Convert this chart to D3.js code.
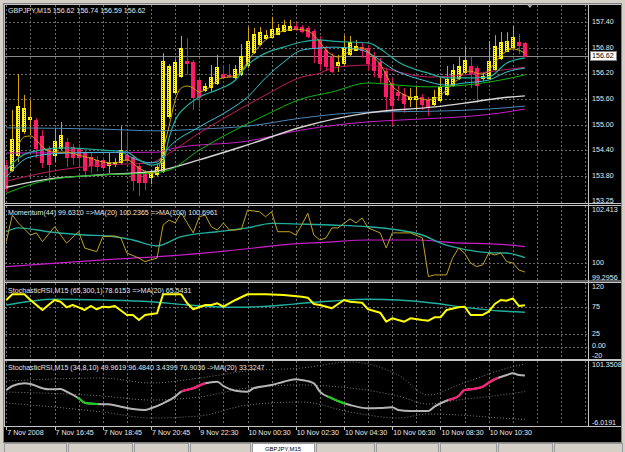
<!DOCTYPE html>
<html>
<head>
<meta charset="utf-8">
<script src="https://cdnjs.cloudflare.com/ajax/libs/d3/7.8.5/d3.min.js"></script>
<style>
  body { margin: 0; background: #d4d0c8; }
  text { font-family: "Liberation Sans", Arial, sans-serif; font-size: 7.1px; }
</style>
</head>
<body>
<svg id="chart" width="625" height="452"></svg>
<script>
// GBPJPY M15 candles, bar 0 = 7 Nov 14:45
const opens = [154.06,153.94,154.29,154.86,155.14,155.11,154.74,154.43,154.29,154.46,
  154.60,154.48,154.46,154.36,154.25,154.18,154.18,154.06,154.08,154.13,
  154.29,154.25,154.04,153.85,153.78,153.85,153.92,155.21,155.77,156.14,
  156.49,156.47,156.05,155.82,155.89,155.98,156.19,156.17,156.12,156.19,
  156.40,156.71,156.89,157.03,157.06,157.13,157.20,157.22,157.31,157.29,
  157.27,157.20,156.99,156.75,156.59,156.40,156.45,156.66,156.75,156.82,
  156.80,156.61,156.47,156.26,155.98,155.77,155.72,155.61,155.61,155.65,
  155.58,155.49,155.58,155.72,155.93,156.10,156.24,156.38,156.33,156.10,
  156.10,156.31,156.57,156.73,156.82,156.94,156.92];
const closes = [153.52,154.67,155.44,155.39,155.18,154.46,154.13,154.08,154.62,154.76,
  154.25,154.25,154.25,153.94,154.06,154.04,154.01,154.11,154.13,154.41,
  154.18,153.71,153.66,153.66,153.90,154.01,156.49,156.38,156.47,156.80,
  156.45,155.65,155.65,155.91,156.12,156.35,156.12,156.14,156.31,156.61,
  156.96,157.13,157.17,157.10,157.24,157.27,157.34,157.31,157.24,157.20,
  157.08,156.80,156.45,156.38,156.26,156.47,156.82,156.94,156.85,156.75,
  156.45,156.28,156.12,155.68,155.47,155.70,155.51,155.65,155.68,155.49,
  155.44,155.65,155.89,156.07,156.28,156.38,156.52,156.21,155.93,156.14,
  156.49,156.85,156.94,156.96,157.06,156.87,156.62];
const highs = [154.18,155.35,156.19,155.70,155.58,155.16,154.88,154.50,154.93,155.07,
  154.69,154.55,154.55,154.41,154.34,154.27,154.25,154.34,154.22,154.97,
  154.83,154.29,154.11,153.94,153.94,154.08,156.68,156.42,156.54,157.08,
  157.03,156.52,156.12,155.98,156.40,156.64,156.40,156.42,156.40,156.89,
  157.29,157.27,157.29,157.22,157.53,157.36,157.46,157.46,157.39,157.34,
  157.31,157.24,157.08,156.85,156.68,156.64,157.10,157.08,156.99,156.92,
  156.87,156.71,156.57,156.33,156.10,155.91,155.86,155.86,155.91,155.72,
  155.65,155.82,156.10,156.38,156.42,156.61,156.82,156.59,156.38,156.24,
  156.96,157.10,157.17,157.17,157.31,157.13,156.94];
const lows = [153.43,153.90,154.13,154.79,154.76,154.22,153.99,153.64,154.13,154.41,
  154.01,154.06,154.04,153.76,153.87,153.90,153.94,153.87,154.01,154.08,
  154.11,153.45,153.33,153.47,153.61,153.80,153.87,155.14,155.72,156.10,
  156.17,155.35,155.39,155.77,155.77,155.93,156.07,156.10,156.07,156.14,
  156.33,156.66,156.85,156.99,157.03,157.10,157.17,157.20,157.20,157.15,
  157.03,156.45,156.28,156.26,156.21,156.24,156.38,156.61,156.73,156.57,
  156.28,156.12,155.98,155.30,154.99,155.56,155.28,155.42,155.35,155.35,
  155.21,155.44,155.53,155.68,155.89,156.05,156.17,155.86,155.51,156.03,
  156.07,156.26,156.52,156.71,156.80,156.66,156.59];

// moving averages on the price window, [bar, price]
const maGold = [[2,154.53],[3,154.72],[4,154.74],[5,154.64],[6,154.48],[8,154.36],[10,154.36],[12,154.29],
  [14,154.22],[16,154.13],[18,154.11],[20,154.18],[22,153.99],[24,153.87],[25,153.90],[26,154.41],
  [27,154.97],[28,155.58],[29,155.86],[30,155.91],[31,155.86],[32,155.77],[33,155.82],[34,155.91],
  [35,156.05],[36,156.10],[38,156.14],[39,156.26],[40,156.47],[41,156.68],[42,156.85],[43,156.99],
  [44,157.08],[46,157.20],[48,157.24],[50,157.20],[51,157.10],[52,156.94],[53,156.75],[54,156.64],
  [55,156.59],[56,156.64],[57,156.73],[58,156.80],[59,156.80],[60,156.71],[61,156.57],[62,156.42],
  [63,156.17],[64,155.91],[65,155.79],[66,155.70],[67,155.65],[68,155.63],[70,155.58],[71,155.61],
  [72,155.68],[73,155.82],[74,155.96],[75,156.07],[76,156.24],[77,156.26],[78,156.21],[79,156.19],
  [80,156.28],[81,156.45],[82,156.61],[83,156.73],[84,156.78],[85,156.75],[86,156.68]];
const maTeal = [[0,153.94],[2,154.22],[4,154.36],[10,154.46],[16,154.41],[20,154.36],[22,154.18],
  [24,154.06],[26,154.15],[27,154.70],[28,155.10],[30,155.45],[32,155.65],[35,155.82],[38,156.05],
  [40,156.40],[43,156.68],[46,156.82],[49,156.94],[52,156.99],[54,156.96],[57,156.94],[60,156.92],
  [63,156.68],[65,156.47],[70,156.21],[73,156.10],[76,156.10],[80,156.12],[83,156.45],[86,156.57]];
const maAqua = [[0,153.78],[4,154.25],[10,154.34],[19,154.36],[21,154.22],[24,154.11],[25,154.13],
  [27,154.48],[32,154.95],[37,155.35],[40,155.65],[43,156.10],[46,156.47],[49,156.75],[52,156.80],
  [54,156.82],[57,156.80],[59,156.75],[65,156.24],[69,156.05],[73,155.93],[76,155.98],[80,156.05],
  [83,156.24],[86,156.33]];
const maCrimson = [[0,153.68],[7,153.90],[16,154.06],[24,154.11],[26,154.25],[32,154.81],[37,155.23],
  [43,155.70],[49,156.12],[52,156.21],[54,156.33],[60,156.40],[65,156.24],[70,156.12],[76,156.17],
  [82,156.28],[86,156.35]];
const maGreen = [[0,153.40],[7,153.71],[16,153.83],[24,153.87],[27,153.94],[32,154.41],[37,154.81],
  [43,155.23],[49,155.61],[54,155.77],[60,155.98],[65,155.93],[70,155.89],[76,155.93],[82,156.05],
  [86,156.17]];
const maSteel = [[0,154.93],[16,154.90],[25,154.86],[32,154.90],[40,154.97],[49,155.16],[60,155.30],
  [71,155.32],[80,155.37],[86,155.44]];
const maSilver = [[0,153.54],[7,153.73],[16,153.83],[25,153.92],[32,154.18],[40,154.53],[49,154.95],
  [60,155.28],[71,155.42],[76,155.51],[82,155.63],[86,155.68]];
const maMagenta = [[0,154.34],[25,154.36],[28,154.46],[40,154.62],[49,154.88],[60,155.07],[65,155.11],
  [82,155.28],[86,155.37]];

// Momentum(44) and its MAs
const momentum = [[0,100.91],[1,102.03],[2,101.70],[4,101.19],[5,101.28],[6,100.91],[8,101.54],[10,100.85],
  [12,101.33],[13,100.64],[15,100.49],[16,101.12],[18,101.15],[19,101.07],[20,100.43],[22,100.22],
  [23,100.07],[25,100.22],[26,101.61],[27,101.82],[28,101.70],[29,102.12],[31,101.28],[32,101.96],
  [33,102.03],[34,101.54],[35,101.40],[36,101.70],[37,101.40],[38,101.40],[39,101.44],[40,102.24],
  [42,102.17],[43,101.96],[44,102.17],[45,101.33],[47,101.33],[48,101.19],[49,101.61],[50,102.11],
  [51,101.19],[52,100.98],[53,101.07],[54,101.49],[55,101.49],[57,101.87],[58,101.70],[59,101.91],
  [60,101.49],[62,101.28],[63,100.64],[64,101.28],[65,101.28],[67,101.28],[69,101.07],[70,99.44],
  [71,99.51],[72,99.51],[73,99.51],[74,100.22],[75,100.64],[76,100.43],[77,100.01],[78,99.86],
  [79,99.93],[80,100.43],[81,100.35],[82,100.43],[83,100.07],[84,100.01],[85,99.72],[86,99.63]];
const momMa20 = [[0,101.33],[2,101.49],[7,101.33],[13,101.19],[17,101.15],[21,100.98],[25,100.73],
  [29,101.12],[35,101.33],[40,101.49],[44,101.68],[49,101.65],[54,101.61],[60,101.54],[65,101.40],
  [69,101.19],[72,100.85],[75,100.64],[80,100.45],[83,100.43],[86,100.24]];
const momMa100 = [[0,99.86],[16,100.14],[27,100.31],[38,100.56],[49,100.84],[52,100.87],[60,100.98],
  [68,100.98],[74,100.87],[82,100.80],[86,100.70]];

// StochasticRSI (65,300,1) and MA(20)
const stochK = [[0,88.3],[1,99],[3,99],[4,88.3],[6,69.6],[8,88.3],[9,85.1],[10,74.6],[11,78.9],[12,74.6],
  [13,69.6],[14,77.1],[15,70.9],[16,75.8],[17,74.6],[18,77.1],[20,60.3],[21,60.3],[22,50.9],[23,60.3],
  [25,63.4],[26,99],[29,99],[30,82.1],[31,70.9],[33,78.9],[34,78.9],[35,82.1],[36,75.8],[38,88.3],
  [40,99],[43,99],[46,97.6],[49,94.4],[50,92.6],[51,80.8],[52,78.9],[54,72.8],[56,88.3],[57,85.1],
  [59,83.2],[60,70.9],[62,64.6],[63,47.8],[64,54.1],[66,47.8],[67,54.1],[69,50.9],[70,49.6],[71,56],
  [72,56],[73,69.6],[75,74.6],[76,75.8],[77,60.3],[79,60.3],[80,66.4],[81,80.8],[82,88.3],[83,87],
  [84,91.4],[85,77.1],[86,78.6]];
const stochMa = [[0,78.9],[8,89.6],[16,88.3],[24,85.1],[30,78.9],[38,74.6],[46,78.9],[49,82.1],
  [54,86.4],[60,89.6],[65,88.3],[71,82.1],[76,74.6],[82,67.7],[86,65.5]];

// StochasticRSI (34,8,10) with bands
const srsiMain = [[0,52.7],[1,59.4],[3,64.0],[4,62.8],[6,55.6],[7,53.9],[9,54.4],[10,49.9],[12,38.8],
  [13,31.4],[15,29.2],[17,28.7],[19,24.7],[21,20.8],[23,19.1],[24,22.0],[26,30.4],[28,41.5],[29,49.9],
  [31,55.6],[33,64.0],[35,66.6],[36,59.4],[38,51.5],[40,49.9],[41,55.6],[44,61.1],[46,66.6],[48,70.7],
  [49,69.5],[51,64.0],[52,49.9],[54,38.8],[56,30.4],[57,27.5],[60,22.0],[62,22.5],[64,23.7],[65,19.1],
  [67,17.5],[70,17.5],[71,24.7],[73,34.8],[75,42.6],[76,52.7],[77,53.9],[79,58.2],[80,65.0],[81,70.7],
  [83,77.9],[84,80.7],[85,77.9],[86,76.9]];
const srsiUpper = [[0,67.8],[16,72.8],[24,64.4],[32,72.8],[40,84.6],[49,89.6],[57,99.7],[65,77.9],
  [70,44.3],[75,61.1],[82,86.3],[86,96.5]];
const srsiMid = [[0,49.3],[16,42.6],[24,35.9],[32,41.0],[40,56.1],[49,61.1],[57,56.1],[65,42.6],
  [70,29.2],[75,35.9],[82,44.3],[86,50.0]];
const srsiLower = [[0,30.9],[16,15.8],[24,5.7],[32,9.1],[40,27.5],[49,32.6],[57,15.8],[65,5.7],
  [70,12.4],[75,10.8],[82,5.7],[86,3.4]];
const srsiGreen = [[11.8,15.2],[53.3,56.3]];
const srsiPink = [[29,33],[73.3,81.6]];

// axis labels
const priceTicks = [157.40,156.80,156.20,155.60,155.00,154.40,153.80];
const timeLabels = ["7 Nov 2008","7 Nov 16:45","7 Nov 18:45","7 Nov 20:45","9 Nov 22:30","10 Nov 00:30",
  "10 Nov 02:30","10 Nov 04:30","10 Nov 06:30","10 Nov 08:30","10 Nov 10:30"];
const timeBars = [0,8,16,24,32,40,48,56,64,72,80];
const lastPrice = 156.62;

const width = 625, height = 452;
const plotLeft = 5, plotRight = 588;
const mainTop = 5, mainBottom = 203;
const momTop = 206, momBottom = 280;
const stTop = 283, stBottom = 358;
const srTop = 361, srBottom = 425;
const gridColor = "#6c6c6c";
const frameColor = "#c4c4c4";

const svg = d3.select("#chart");
const snap = v => Math.round(v) + 0.5;

const x = d3.scaleLinear().domain([0, 86]).range([6.3, 524.9]);
const yMain = d3.scaleLinear().domain([153.17, 157.807]).range([mainBottom, mainTop]);
const yMom = d3.scaleLinear().domain([99.2956, 102.413]).range([momBottom, momTop]);
const ySt = d3.scaleLinear().domain([-20, 120]).range([stBottom, stTop]);
const ySr = d3.scaleLinear().domain([-6.0191, 101.3508]).range([srBottom, srTop]);

// window background
svg.append("rect").attr("width", width).attr("height", height).attr("fill", "#d4d0c8");
svg.append("rect").attr("x", 3.5).attr("y", 3.5).attr("width", 618).attr("height", 439)
  .attr("fill", "#000").attr("stroke", "#808080");

const defs = svg.append("defs");
const pat = defs.append("pattern").attr("id", "bullFill")
  .attr("width", 2).attr("height", 2).attr("patternUnits", "userSpaceOnUse");
pat.append("rect").attr("width", 2).attr("height", 2).attr("fill", "#ffff00");
pat.append("rect").attr("width", 1).attr("height", 1).attr("fill", "#3a3000");

// grids
const gridBars = d3.range(0, 97, 4);
function vGrid(top, bottom) {
  svg.append("g").selectAll("line").data(gridBars).join("line")
    .attr("x1", d => snap(x(d))).attr("x2", d => snap(x(d)))
    .attr("y1", top).attr("y2", bottom)
    .attr("stroke", gridColor).attr("stroke-dasharray", "2,2");
}
function hGrid(vals, yS) {
  svg.append("g").selectAll("line").data(vals).join("line")
    .attr("x1", plotLeft).attr("x2", plotRight)
    .attr("y1", d => snap(yS(d))).attr("y2", d => snap(yS(d)))
    .attr("stroke", gridColor).attr("stroke-dasharray", "2,2");
}
vGrid(mainTop, mainBottom);
vGrid(momTop, momBottom);
vGrid(stTop, stBottom);
vGrid(srTop, srBottom);
hGrid(priceTicks, yMain);
hGrid([100], yMom);
hGrid([75, 25, 0], ySt);

// bid line
svg.append("line").attr("x1", plotLeft).attr("x2", plotRight)
  .attr("y1", snap(yMain(lastPrice))).attr("y2", snap(yMain(lastPrice)))
  .attr("stroke", "#8a8a8a");

// candles
const candles = d3.range(opens.length).map(i => ({ i, o: opens[i], h: highs[i], l: lows[i], c: closes[i] }));
const cg = svg.append("g");
cg.selectAll("line").data(candles).join("line")
  .attr("x1", d => Math.round(x(d.i)) + 0.5).attr("x2", d => Math.round(x(d.i)) + 0.5)
  .attr("y1", d => yMain(d.h)).attr("y2", d => yMain(d.l))
  .attr("stroke", d => d.c >= d.o ? "#d9a400" : "#d8145a");
cg.selectAll("rect").data(candles).join("rect")
  .attr("x", d => Math.round(x(d.i)) - 1.5)
  .attr("y", d => Math.round(yMain(Math.max(d.o, d.c))) + 0.5)
  .attr("width", 3)
  .attr("height", d => Math.max(0, Math.round(Math.abs(yMain(d.o) - yMain(d.c)))))
  .attr("fill", d => d.c >= d.o ? "url(#bullFill)" : "#ff1a66")
  .attr("stroke", d => d.c >= d.o ? "#ffee00" : "#ff1a66");

// line helper
function drawLine(pts, yS, color, w, curve, extra) {
  const gen = d3.line().x(d => x(d[0])).y(d => yS(d[1])).curve(curve || d3.curveMonotoneX);
  const p = svg.append("path").datum(pts).attr("d", gen)
    .attr("fill", "none").attr("stroke", color).attr("stroke-width", w)
    .attr("stroke-linejoin", "round");
  if (extra) extra(p);
  return p;
}

drawLine(maMagenta, yMain, "#c81ec8", 1);
drawLine(maSteel, yMain, "#4a86b8", 1);
drawLine(maSilver, yMain, "#d6d6d6", 1.4);
drawLine(maGreen, yMain, "#10b810", 1);
drawLine(maCrimson, yMain, "#c41a5e", 1);
drawLine(maAqua, yMain, "#30c8d8", 1);
drawLine(maTeal, yMain, "#1fae9e", 1.2);
drawLine(maGold, yMain, "#c9a80e", 1);

// momentum panel
drawLine(momMa100, yMom, "#c81ec8", 1.2);
drawLine(momMa20, yMom, "#1fae9e", 1.4);
drawLine(momentum, yMom, "#bfa222", 1, d3.curveLinear);

// stochastic panel
drawLine(stochMa, ySt, "#1fae9e", 1.4);
drawLine(stochK, ySt, "#ffff00", 2, d3.curveLinear);

// stochastic rsi panel
[srsiUpper, srsiMid, srsiLower].forEach(b =>
  drawLine(b, ySr, "#7a7a7a", 1, d3.curveMonotoneX, p => p.attr("stroke-dasharray", "1,2")));
drawLine(srsiMain, ySr, "#b4b4b4", 2);
function segClip(id, ranges) {
  const c = defs.append("clipPath").attr("id", id);
  ranges.forEach(r => c.append("rect")
    .attr("x", x(r[0])).attr("y", srTop).attr("width", x(r[1]) - x(r[0])).attr("height", srBottom - srTop));
}
segClip("greenSeg", srsiGreen);
segClip("pinkSeg", srsiPink);
drawLine(srsiMain, ySr, "#12d012", 2, d3.curveMonotoneX, p => p.attr("clip-path", "url(#greenSeg)"));
drawLine(srsiMain, ySr, "#ff1a78", 2, d3.curveMonotoneX, p => p.attr("clip-path", "url(#pinkSeg)"));

// frames
const fr = svg.append("g").attr("fill", "none").attr("stroke", frameColor);
[[4.5, 203.5], [205.5, 281], [282.5, 359.5], [360.5, 426.5]].forEach(([t, b]) => {
  fr.append("line").attr("x1", 4).attr("x2", 621).attr("y1", t).attr("y2", t);
  fr.append("line").attr("x1", 4).attr("x2", 621).attr("y1", b).attr("y2", b);
});
fr.append("line").attr("x1", 588.5).attr("x2", 588.5).attr("y1", 4).attr("y2", 426.5);
fr.append("line").attr("x1", 4.5).attr("x2", 4.5).attr("y1", 4).attr("y2", 426.5);

// chart shift marker
svg.append("path")
  .attr("d", `M${x(86) + 2},4.5 L${x(86) + 8},4.5 L${x(86) + 5},8 Z`)
  .attr("fill", "#a0a0a0");

// right axis labels
const lab = svg.append("g").attr("fill", "#e8e8e8");
function axisLabel(txt, yPos, base) {
  lab.append("text").attr("x", 592).attr("y", yPos)
    .attr("dominant-baseline", base || "middle").text(txt);
}
priceTicks.forEach(p => axisLabel(p.toFixed(2), yMain(p)));
axisLabel("153.25", mainBottom, "auto");
axisLabel("102.413", momTop + 1, "hanging");
axisLabel("100", yMom(100));
axisLabel("99.2956", momBottom, "auto");
axisLabel("120", stTop + 1, "hanging");
[75, 25].forEach(v => axisLabel(String(v), ySt(v)));
axisLabel("0.00", ySt(0) - 1);
axisLabel("-20", stBottom, "auto");
axisLabel("101.3508", srTop + 1, "hanging");
axisLabel("-6.0191", srBottom, "auto");

// current price box
svg.append("rect").attr("x", 590.5).attr("y", Math.round(yMain(lastPrice)) - 4.5)
  .attr("width", 26).attr("height", 9).attr("fill", "#fff").attr("stroke", "#808080");
svg.append("text").attr("x", 592).attr("y", yMain(lastPrice) + 0.5)
  .attr("dominant-baseline", "middle").attr("fill", "#000").text(lastPrice.toFixed(2));

// time axis
const tg = svg.append("g");
tg.selectAll("line").data(timeBars).join("line")
  .attr("x1", d => snap(x(d))).attr("x2", d => snap(x(d)))
  .attr("y1", srBottom + 1).attr("y2", srBottom + 5)
  .attr("stroke", frameColor);
tg.selectAll("text").data(timeBars).join("text")
  .attr("x", d => x(d) + 1).attr("y", 435)
  .attr("fill", "#e8e8e8")
  .text((d, i) => timeLabels[i]);

// panel captions
const cap = svg.append("g").attr("fill", "#e4e4e4");
cap.append("text").attr("x", 8).attr("y", 13).text("GBPJPY,M15  156.62 156.74 156.59 156.62");
cap.append("text").attr("x", 8).attr("y", 215).text("Momentum(44) 99.6310  =>MA(20) 100.2365  =>MA(100) 100.6961");
cap.append("text").attr("x", 8).attr("y", 292.5).text("StochasticRSI,M15 (65,300,1) 78.6153  =>MA(20) 65.5431");
cap.append("text").attr("x", 8).attr("y", 370).text("StochasticRSI,M15 (34,8,10) 49.9619 96.4840 3.4399 76.9036  ->MA(20) 33.3247");

// bottom tab strip
const tabs = [[4, 66], [68, 132], [134, 188], [190, 250], [252, 314], [316, 374], [376, 438], [440, 496], [498, 552], [554, 622]];
const tb = svg.append("g");
tb.selectAll("rect").data(tabs).join("rect")
  .attr("x", d => d[0] + 0.5).attr("y", 443.5)
  .attr("width", d => d[1] - d[0]).attr("height", 9)
  .attr("fill", (d, i) => i === 4 ? "#ffffff" : "#d4d0c8")
  .attr("stroke", "#9a9a9a");
tb.append("text").attr("x", 283).attr("y", 450.5).attr("text-anchor", "middle")
  .attr("fill", "#000").style("font-size", "6px").text("GBPJPY,M15");
</script>
</body>
</html>
